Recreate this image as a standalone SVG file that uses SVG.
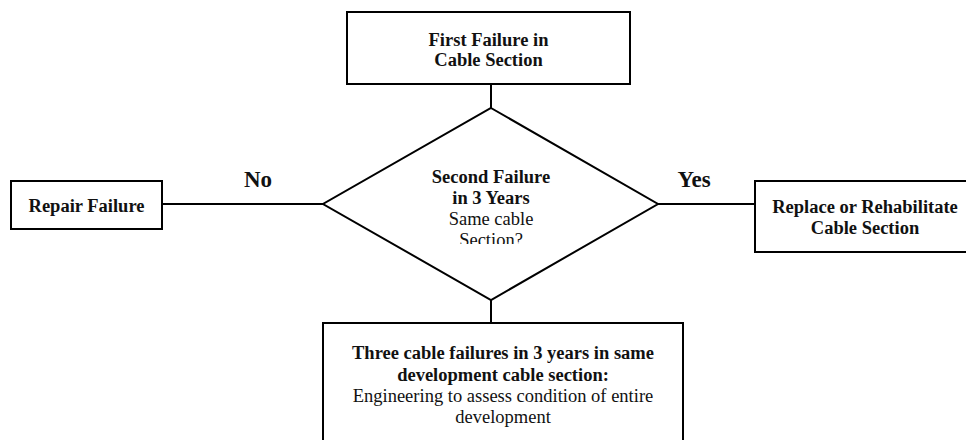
<svg xmlns="http://www.w3.org/2000/svg" width="966" height="440" viewBox="0 0 966 440">
  <style>
    .box { fill: #ffffff; stroke: #000000; stroke-width: 2; }
    .line { fill: none; stroke: #000000; stroke-width: 2; }
    text { font-family: "Liberation Serif", "Times New Roman", serif; fill: #111111; text-anchor: middle; font-size: 18.5px; }
    .b { font-weight: bold; }
    .label { font-weight: bold; font-size: 23px; }
  </style>
  <defs>
    <clipPath id="diamondTextClip">
      <rect x="330" y="160" width="320" height="84"/>
    </clipPath>
  </defs>
  <rect width="966" height="440" fill="#ffffff"/>

  <g id="connectors">
    <line class="line" x1="491" y1="84" x2="491" y2="108"/>
    <line class="line" x1="162" y1="204" x2="323" y2="204"/>
    <line class="line" x1="658" y1="204" x2="755" y2="204"/>
    <line class="line" x1="491" y1="300" x2="491" y2="323"/>
    <text class="label" x="258" y="187">No</text>
    <text class="label" x="694" y="187">Yes</text>
  </g>

  <g id="first-failure">
    <rect class="box" x="347" y="12" width="283" height="72"/>
    <text class="b" x="488.5" y="46">First Failure in</text>
    <text class="b" x="488.5" y="66">Cable Section</text>
  </g>

  <g id="second-failure">
    <polygon class="box" points="491,108 658,204 491,300 323,204"/>
    <g clip-path="url(#diamondTextClip)">
      <text class="b" x="491" y="183">Second Failure</text>
      <text class="b" x="491" y="203.5">in 3 Years</text>
      <text x="491" y="225">Same cable</text>
      <text x="491" y="246">Section?</text>
    </g>
  </g>

  <g id="repair-failure">
    <rect class="box" x="11" y="181" width="151" height="48"/>
    <text class="b" x="86.5" y="211.5">Repair Failure</text>
  </g>

  <g id="replace-rehabilitate">
    <rect class="box" x="755" y="181" width="220" height="71"/>
    <text class="b" x="865" y="213">Replace or Rehabilitate</text>
    <text class="b" x="865" y="233.5">Cable Section</text>
  </g>

  <g id="three-failures">
    <rect class="box" x="323" y="323" width="360" height="130"/>
    <text class="b" x="503" y="359">Three cable failures in 3 years in same</text>
    <text class="b" x="503" y="380.5">development cable section:</text>
    <text x="503" y="402">Engineering to assess condition of entire</text>
    <text x="503" y="423">development</text>
  </g>
</svg>
